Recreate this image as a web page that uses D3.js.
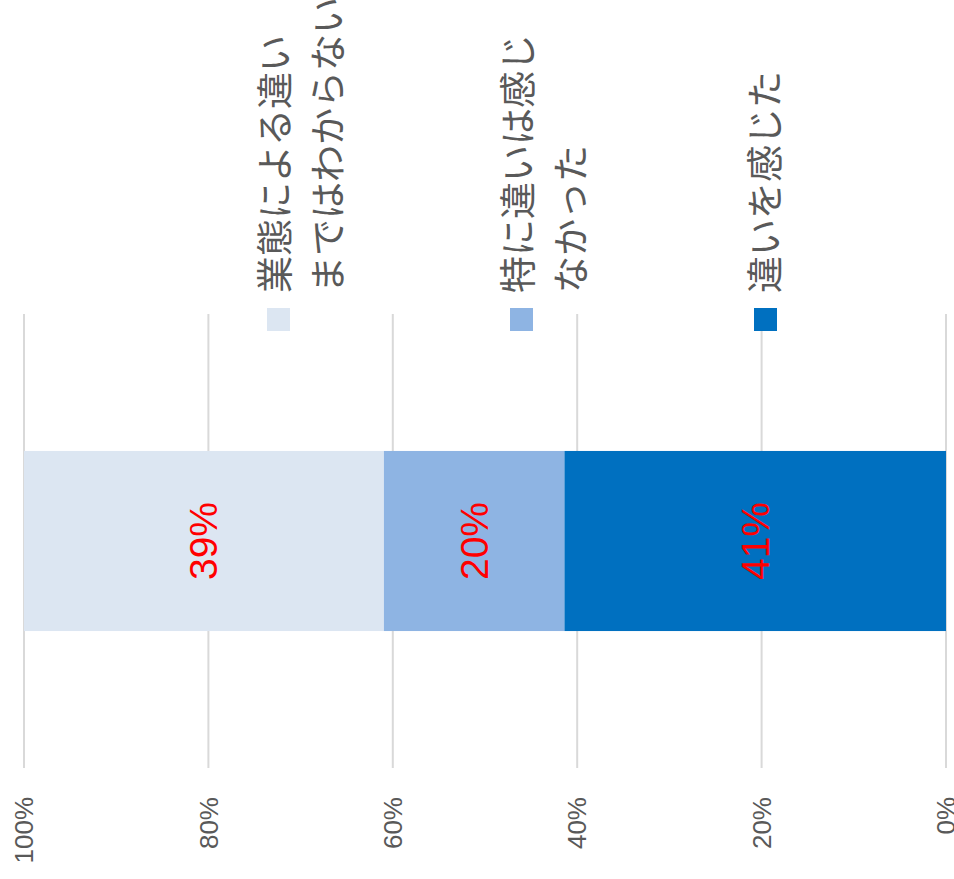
<!DOCTYPE html>
<html>
<head>
<meta charset="utf-8">
<script src="https://cdn.jsdelivr.net/npm/d3@7"></script>
<style>
	body { margin: 0; background: #fff; }
	svg { display: block; }
</style>
</head>
<body>
<div id="chart"></div>
<script>
/* global d3 */

// stacked from 0% upward
const seriesNames = ['違いを感じた', '特に違いは感じなかった', '業態による違いまではわからない'];
const legendLines = [['違いを感じた'], ['特に違いは感じ', 'なかった'], ['業態による違い', 'まではわからない']];
const seriesValues = [0.414, 0.196, 0.39];
const seriesColors = ['#0070c0', '#8eb4e3', '#dce6f2'];
const tickValues = [0, 0.2, 0.4, 0.6, 0.8, 1];
const category = [''];

const width = 954;
const height = 879;

const svg = d3.select('#chart').append('svg')
	.attr('width', width)
	.attr('height', height);

// the chart is drawn as a column chart, then turned a quarter to the left
const chart = svg.append('g')
	.attr('transform', `translate(0,${height}) rotate(-90)`);

const y = d3.scaleLinear()
	.domain([0, 1])
	.range([946, 24]);

const x = d3.scaleBand()
	.domain(category)
	.range([111, 565])
	.padding(0.432);

// gridlines
chart.selectAll('line.grid')
	.data(tickValues)
	.enter().append('line')
	.attr('class', 'grid')
	.attr('x1', 111)
	.attr('x2', 565)
	.attr('y1', d => y(d))
	.attr('y2', d => y(d))
	.attr('stroke', '#d9d9d9')
	.attr('stroke-width', 2);

// tick labels
chart.selectAll('text.tick')
	.data(tickValues)
	.enter().append('text')
	.attr('class', 'tick')
	.attr('x', 82)
	.attr('y', d => y(d))
	.attr('dy', '0.35em')
	.attr('text-anchor', 'end')
	.attr('font-family', '"Liberation Sans", Arial, sans-serif')
	.attr('font-size', 26)
	.attr('fill', '#595959')
	.text(d3.format('.0%'));

const stack = [];
let acc = 0;
seriesValues.forEach((v, i) => {
	stack.push({name: seriesNames[i], y0: acc, y1: acc + v, value: v, color: seriesColors[i]});
	acc += v;
});

chart.selectAll('rect.bar')
	.data(stack)
	.enter().append('rect')
	.attr('class', 'bar')
	.attr('x', x(''))
	.attr('width', x.bandwidth())
	.attr('y', d => y(d.y1))
	.attr('height', d => y(d.y0) - y(d.y1))
	.attr('fill', d => d.color);

chart.selectAll('text.value')
	.data(stack)
	.enter().append('text')
	.attr('class', 'value')
	.attr('x', x('') + x.bandwidth() / 2)
	.attr('y', d => (y(d.y0) + y(d.y1)) / 2)
	.attr('dy', '0.35em')
	.attr('text-anchor', 'middle')
	.attr('font-family', '"Liberation Sans", Arial, sans-serif')
	.attr('font-size', 39)
	.attr('fill', '#ff0000')
	.text(d => d3.format('.0%')(d.value));

// legend, one entry level with each segment
const legendPos = [765.5, 521.5, 278.5];
const legend = chart.selectAll('g.legend')
	.data(stack)
	.enter().append('g')
	.attr('class', 'legend')
	.attr('transform', (d, i) => `translate(0,${legendPos[i]})`);

legend.append('rect')
	.attr('x', 548)
	.attr('y', -11.5)
	.attr('width', 23)
	.attr('height', 23)
	.attr('fill', d => d.color);

legend.each(function (d, i) {
	const lines = legendLines[i];
	d3.select(this).selectAll('text')
		.data(lines)
		.enter().append('text')
		.attr('x', 586)
		.attr('y', (t, j) => (lines.length > 1 ? -3 : 0) + j * 53)
		.attr('dy', '0.36em')
		.attr('font-family', '"Noto Sans CJK JP", sans-serif')
		.attr('font-size', 37)
		.attr('fill', '#595959')
		.text(t => t);
});
</script>
</body>
</html>
